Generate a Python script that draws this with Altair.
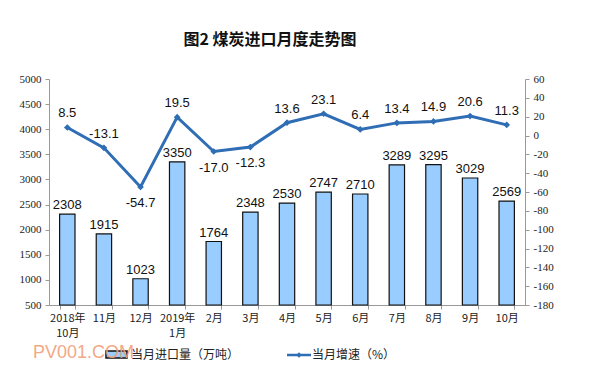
import altair as alt
import pandas as pd

cats = ["2018年\n10月", "11月", "12月", "2019年\n1月", "2月", "3月", "4月",
        "5月", "6月", "7月", "8月", "9月", "10月"]
volume = [2308, 1915, 1023, 3350, 1764, 2348, 2530, 2747, 2710, 3289, 3295, 3029, 2569]
growth = [8.5, -13.1, -54.7, 19.5, -17.0, -12.3, 13.6, 23.1, 6.4, 13.4, 14.9, 20.6, 11.3]
below_labels = ["12月", "2月", "3月"]

title_text = "图2  煤炭进口月度走势图"
legend_bar = "当月进口量（万吨）"
legend_line = "当月增速（%）"
watermark = "PV001.COM"

df = pd.DataFrame({"cat": cats, "vol": volume, "g": growth})
df["below"] = df["cat"].isin(below_labels)

serif = "Liberation Serif"
sans = "Liberation Sans"
cjk = "Noto Sans CJK SC"

bar_fill = "#99CCFF"
line_col = "#2F6DB5"

x_axis = alt.Axis(labelAngle=0,
                  labelExpr="isString(datum.value) ? split(datum.value, '\\n') : ''",
                  labelFont=cjk, labelFontSize=11, labelColor="#222",
                  labelPadding=3, tickBand="extent", tickSize=4,
                  domainColor="#999", tickColor="#999", labelLineHeight=15,
                  labelOverlap=False)
x = alt.X("cat:N", sort=cats, title=None,
          scale=alt.Scale(paddingInner=0.58, paddingOuter=0.29), axis=x_axis)

yl_scale = alt.Scale(domain=[500, 5000], zero=False, nice=False)
yr_scale = alt.Scale(domain=[-180, 60], zero=False, nice=False)
yl_axis = alt.Axis(values=list(range(500, 5001, 500)), format="d",
                   labelOverlap=False, labelFlush=False, labelFont=serif,
                   labelFontSize=11, labelColor="#222", grid=False,
                   domainColor="#999", tickColor="#999", tickSize=4,
                   labelPadding=4)
yr_axis = alt.Axis(orient="right", values=list(range(-180, 61, 20)),
                   labelExpr="replace(datum.label, '−', '-')",
                   labelOverlap=False, labelFlush=False,
                   labelFont=serif, labelFontSize=11, labelColor="#222",
                   grid=False, domainColor="#999", tickColor="#999",
                   tickSize=4, labelPadding=4)

yl = alt.Y("vol:Q", scale=yl_scale, title=None, axis=yl_axis)
yr = alt.Y("g:Q", scale=yr_scale, title=None, axis=yr_axis)

base = alt.Chart(df).transform_calculate(
    glab="replace(format(datum.g, '.1f'), '−', '-')")

bars = base.mark_bar(color=bar_fill, stroke="#111", strokeWidth=1.2).encode(
    x=x, y=yl, y2=alt.datum(500))
bar_text = base.mark_text(font=sans, fontSize=13, dy=-9, color="#111").encode(
    x=x, y=yl, text=alt.Text("vol:Q"))

line = base.mark_line(color=line_col, strokeWidth=3).encode(x=x, y=yr)
pts = base.mark_point(shape="diamond", filled=True, color=line_col, size=45,
                      opacity=1).encode(x=x, y=yr)
gt_above = base.transform_filter("!datum.below").mark_text(
    font=sans, fontSize=13, dy=-14, color="#111").encode(
    x=x, y=yr, text=alt.Text("glab:N"))
gt_below = base.transform_filter("datum.below").mark_text(
    font=sans, fontSize=13, dy=16, color="#111").encode(
    x=x, y=yr, text=alt.Text("glab:N"))

one = alt.Chart(pd.DataFrame({"a": [0]}))
title = one.mark_text(font=cjk, fontSize=16, fontWeight="bold", color="#111").encode(
    x=alt.value(221), y=alt.value(-39), text=alt.value(title_text))
swatch = one.mark_rect(fill=bar_fill, stroke="#111", strokeWidth=1.5).encode(
    x=alt.value(57), x2=alt.value(78), y=alt.value(272), y2=alt.value(279))
leg1 = one.mark_text(font=cjk, fontSize=12, align="left", color="#222").encode(
    x=alt.value(82), y=alt.value(276), text=alt.value(legend_bar))
leg_line = one.mark_rule(color=line_col, strokeWidth=2.5).encode(
    x=alt.value(238), x2=alt.value(262), y=alt.value(276))
leg_pt = one.mark_point(shape="diamond", filled=True, color=line_col, size=30,
                        opacity=1).encode(x=alt.value(250), y=alt.value(276))
leg2 = one.mark_text(font=cjk, fontSize=12, align="left", color="#222").encode(
    x=alt.value(263), y=alt.value(276), text=alt.value(legend_line))
wm = one.mark_text(font=sans, fontSize=18, align="left", color="#F2A07A",
                   opacity=0.9).encode(
    x=alt.value(-16), y=alt.value(274), text=alt.value(watermark))

left = alt.layer(bars, bar_text)
right = alt.layer(line, pts, gt_above, gt_below)
extras = alt.layer(title, swatch, leg1, leg_line, leg_pt, leg2, wm)

chart = alt.layer(left, right, extras).resolve_scale(y="independent").properties(
    width=476, height=226,
    padding={"left": 49, "top": 79, "right": 80, "bottom": 72},
    autosize=alt.AutoSizeParams(type="none"),
    background="white",
).configure_view(stroke=None).configure_axis(labelOverlap=False)

chart.save("out.html", embed_options={"renderer": "svg", "actions": False})
